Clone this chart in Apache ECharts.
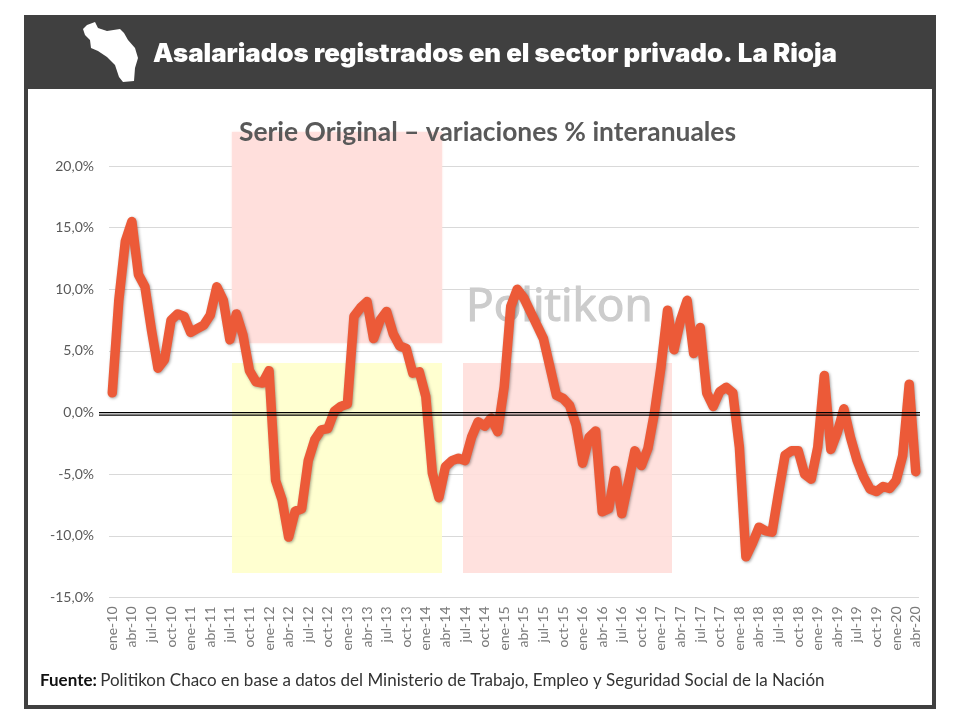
<!DOCTYPE html>
<html><head><meta charset="utf-8">
<style>html,body{margin:0;padding:0;background:#fff}#c{width:960px;height:720px}</style>
<script src="https://cdn.jsdelivr.net/npm/echarts@6/dist/echarts.min.js"></script>
</head><body><div id="c"></div>
<script>
const monthNames = ['ene','feb','mar','abr','may','jun','jul','ago','sep','oct','nov','dic'];
const categories = [];
for (let y = 10; y <= 20; y++) for (let m = 0; m < 12; m++) if (y < 20 || m <= 3) categories.push(monthNames[m] + '-' + y);
const values = [
 1.6, 9.1,13.9,15.5,11.2,10.2, 6.7, 3.6, 4.3, 7.5, 8.0, 7.8,
 6.5, 6.8, 7.1, 7.9,10.2, 9.1, 5.9, 8.0, 6.3, 3.4, 2.5, 2.4,
 3.4,-5.5,-7.1,-10.1,-8.0,-7.8,-3.9,-2.2,-1.4,-1.3, 0.1, 0.5,
 0.7, 7.8, 8.5, 9.0, 6.0, 7.5, 8.2, 6.4, 5.4, 5.2, 3.2, 3.3,
 1.3,-4.9,-6.9,-4.4,-3.9,-3.7,-3.9,-2.0,-0.75,-1.1,-0.45,-1.55,
 2.1, 8.6,10.0, 9.3, 8.2, 7.1, 6.0, 3.7, 1.4, 1.15, 0.6,-1.0,
-4.1,-2.0,-1.5,-8.05,-7.8,-4.7,-8.2,-5.7,-3.1,-4.3,-2.9, 0.0,
 3.7, 8.3, 5.1, 7.5, 9.1, 4.8, 6.9, 1.6, 0.5, 1.7, 2.05, 1.6,
-2.8,-11.7,-10.6,-9.3,-9.6,-9.7,-6.5,-3.45,-3.1,-3.1,-5.0,-5.4,
-2.8, 3.0,-3.0,-1.6, 0.3,-2.0,-3.85,-5.2,-6.2,-6.4,-6.0,-6.15,
-5.5,-3.5, 2.3,-4.8];
const mapShape = [[83,29],[87,25],[95,22],[98,28],[107,31],[120,29],[124,33],[128,40],[135,48],[138,58],[135,68],[134,81],[123,82],[119,77],[115,65],[107,57],[98,51],[91,48],[90,40],[85,35]];
const headerTitle = 'Asalariados registrados en el sector privado. La Rioja';
const subTitle = 'Serie Original – variaciones % interanuales';
const watermark = 'Politikon';
const source = 'Politikon Chaco en base a datos del Ministerio de Trabajo, Empleo y Seguridad Social de la Nación';

const chart = echarts.init(document.getElementById('c'), null, {renderer:'canvas'});
const dark = '#404040';
const rect = (x,y,w,h,fill,z,extra) => ({type:'rect',shape:{x,y,width:w,height:h},style:Object.assign({fill},extra||{}),z,silent:true});
chart.setOption({
  animation:false,
  backgroundColor:'#fff',
  grid:{left:109,right:41,top:166,bottom:122.5,containLabel:false},
  xAxis:{type:'category',data:categories,boundaryGap:true,position:'bottom',
    axisLine:{show:false,onZero:false},axisTick:{show:false},
    axisLabel:{interval:2,rotate:90,margin:9,fontFamily:'Lato',fontSize:14,color:'#7a7a7a'}},
  yAxis:{type:'value',min:-15,max:20,interval:5,axisLine:{show:false},axisTick:{show:false},
    splitLine:{lineStyle:{color:'#d9d9d9',width:1}},
    axisLabel:{margin:15,fontFamily:'Lato',fontSize:14,color:'#595959',
      formatter:v=>v.toFixed(1).replace('.',',')+'%'}},
  series:[{type:'line',data:values,symbol:'none',smooth:false,z:5,clip:false,
    lineStyle:{color:'#EC5A38',width:9.5,cap:'round',join:'round',shadowColor:'rgba(0,0,0,0.35)',shadowBlur:3,shadowOffsetX:1,shadowOffsetY:1}}],
  graphic:[
    rect(232,132,210,211,'#FFDEDB',1,{shadowColor:'#FFDEDB',shadowBlur:2,opacity:0.92}),
    rect(232,363,210,210,'#FFFFCC',1,{opacity:0.92}),
    rect(463,363,209,210,'#FFDEDB',1,{opacity:0.92}),
    {type:'text',x:466,y:285,z:1,silent:true,style:{text:watermark,font:'400 46px "Open Sans"',fill:'#cccccc',stroke:'#cccccc',lineWidth:1.2,letterSpacing:5,shadowColor:'rgba(0,0,0,0.25)',shadowBlur:3}},
    rect(24,15,912,74,dark,10),
    rect(24,15,4,694,dark,10),
    rect(932,15,4,694,dark,10),
    rect(24,705,912,4,dark,10),
    {type:'polygon',z:11,silent:true,shape:{points:mapShape},style:{fill:'#fff'}},
    {type:'text',x:153,y:41,z:11,silent:true,style:{text:headerTitle,font:'900 25.8px Inter',fill:'#fff',shadowColor:'rgba(0,0,0,0.5)',shadowBlur:2}},
    {type:'text',x:239,y:119,z:12,silent:true,style:{text:subTitle,font:'700 26.4px Lato',fill:'#595959'}},
    {type:'line',z:12,silent:true,shape:{x1:99,y1:412.7,x2:920,y2:412.7},style:{stroke:'#000',lineWidth:1.3}},
    {type:'line',z:12,silent:true,shape:{x1:99,y1:415.2,x2:920,y2:415.2},style:{stroke:'#000',lineWidth:1.3}},
    {type:'text',x:40,y:672,z:12,silent:true,style:{text:'{b|Fuente:} {n|'+source+'}',
      rich:{b:{font:'700 17px Lato',fill:'#111'},n:{font:'400 17px Lato',fill:'#333'}}}}
  ]
});
</script></body></html>
